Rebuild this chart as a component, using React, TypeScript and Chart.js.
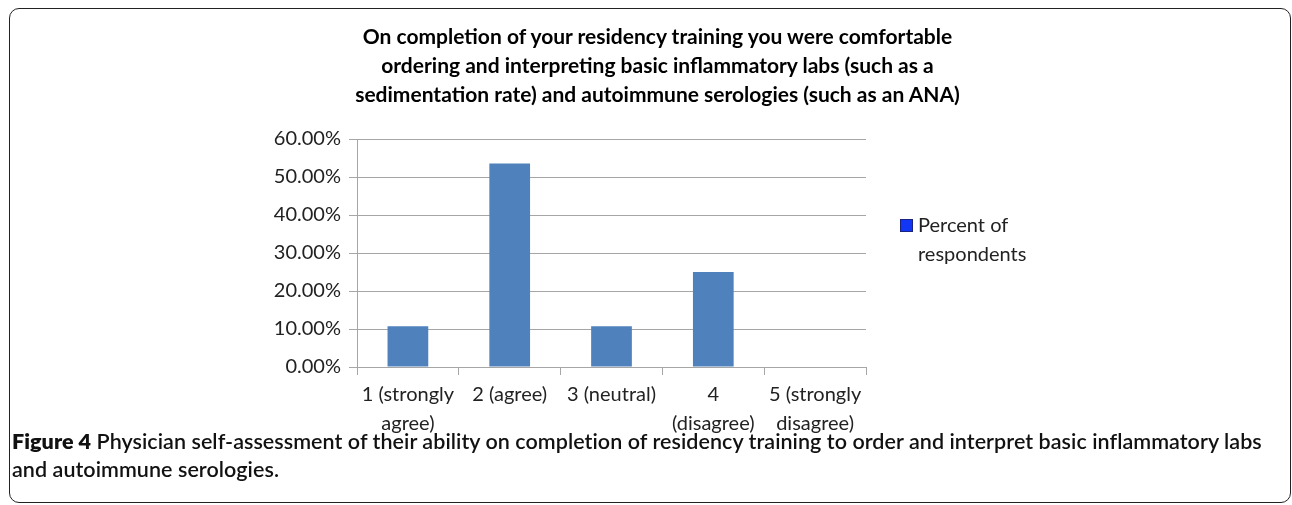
import React, { useEffect, useRef } from "react";
import { Chart, registerables } from "chart.js";

Chart.register(...registerables);

const categories: string[][] = [
  ["1 (strongly", "agree)"],
  ["2 (agree)"],
  ["3 (neutral)"],
  ["4", "(disagree)"],
  ["5 (strongly", "disagree)"],
];
const percentValues: number[] = [10.71, 53.57, 10.71, 25.0, 0];
const seriesName = ["Percent of", "respondents"];
const titleLines: string[] = [
  "On completion of your residency training you were comfortable",
  "ordering and interpreting basic inflammatory labs (such as a",
  "sedimentation rate) and autoimmune serologies (such as an ANA)",
];
const yMin = 0;
const yMax = 60;
const yStep = 10;

const FONT = "Lato, 'Open Sans', sans-serif";

export default function App() {
  const canvasRef = useRef<HTMLCanvasElement | null>(null);

  useEffect(() => {
    document.body.style.margin = "0";
    document.body.style.overflow = "hidden";
    const canvas = canvasRef.current;
    if (!canvas) return;
    const chart = new Chart(canvas, {
      type: "bar",
      data: {
        labels: categories,
        datasets: [
          {
            label: seriesName.join(" "),
            data: percentValues,
            backgroundColor: "#4f81bd",
            borderWidth: 0,
            barPercentage: 0.4,
            categoryPercentage: 1.0,
          },
        ],
      },
      options: {
        animation: false,
        responsive: false,
        maintainAspectRatio: false,
        layout: { padding: { top: 139, right: 134, bottom: 0, left: 0 } },
        plugins: {
          legend: { display: false },
          title: { display: false },
          tooltip: { enabled: false },
        },
        scales: {
          x: {
            afterFit: (scale: any) => {
              scale.height = 70;
            },
            grid: {
              drawOnChartArea: false,
              offset: true,
              tickLength: 8,
              color: "#a6a6a6",
            },
            border: { color: "#a6a6a6" },
            ticks: {
              color: "#222",
              padding: 5,
              maxRotation: 0,
              font: { family: FONT, size: 20, lineHeight: 1.45 },
            },
          },
          y: {
            min: yMin,
            max: yMax,
            afterFit: (scale: any) => {
              scale.width = 357;
            },
            grid: { color: "#a6a6a6", tickLength: 8 },
            border: { color: "#a6a6a6" },
            ticks: {
              stepSize: yStep,
              color: "#222",
              padding: 8,
              font: { family: FONT, size: 20 },
              callback: (v: any) => Number(v).toFixed(2) + "%",
            },
          },
        },
      },
    });
    return () => chart.destroy();
  }, []);

  return (
    <div
      style={{
        position: "relative",
        width: 1292,
        height: 505,
        overflow: "hidden",
        fontFamily: FONT,
        background: "#fff",
      }}
    >
      <div
        style={{
          position: "absolute",
          left: 9,
          top: 8,
          width: 1282,
          height: 495,
          boxSizing: "border-box",
          border: "1.5px solid #222",
          borderRadius: 10,
        }}
      />
      <canvas
        ref={canvasRef}
        width={1000}
        height={437}
        style={{ position: "absolute", left: 0, top: 0, width: 1000, height: 437 }}
      />
      <div
        style={{
          position: "absolute",
          left: 0,
          width: 1315,
          top: 21,
          textAlign: "center",
          fontSize: 21,
          lineHeight: "29px",
          fontWeight: 700,
          color: "#000",
          whiteSpace: "nowrap",
        }}
      >
        {titleLines.map((t, i) => (
          <div key={i}>{t}</div>
        ))}
      </div>
      <div
        style={{
          position: "absolute",
          left: 900,
          top: 219,
          width: 13,
          height: 13,
          boxSizing: "border-box",
          background: "#1236f5",
          border: "1px solid #1a237e",
        }}
      />
      <div
        style={{
          position: "absolute",
          left: 918,
          top: 210,
          fontSize: 20,
          lineHeight: "29px",
          color: "#222",
          whiteSpace: "nowrap",
        }}
      >
        {seriesName.map((t, i) => (
          <div key={i}>{t}</div>
        ))}
      </div>
      <div
        style={{
          position: "absolute",
          left: 12,
          top: 427,
          fontSize: 21.5,
          letterSpacing: 0.05,
          fontWeight: 600,
          lineHeight: "28px",
          color: "#111",
          whiteSpace: "nowrap",
        }}
      >
        <div>
          <span style={{ fontWeight: 800 }}>Figure 4</span> Physician self-assessment of their ability on completion of residency training to order and interpret basic inflammatory labs
        </div>
        <div>and autoimmune serologies.</div>
      </div>
    </div>
  );
}
